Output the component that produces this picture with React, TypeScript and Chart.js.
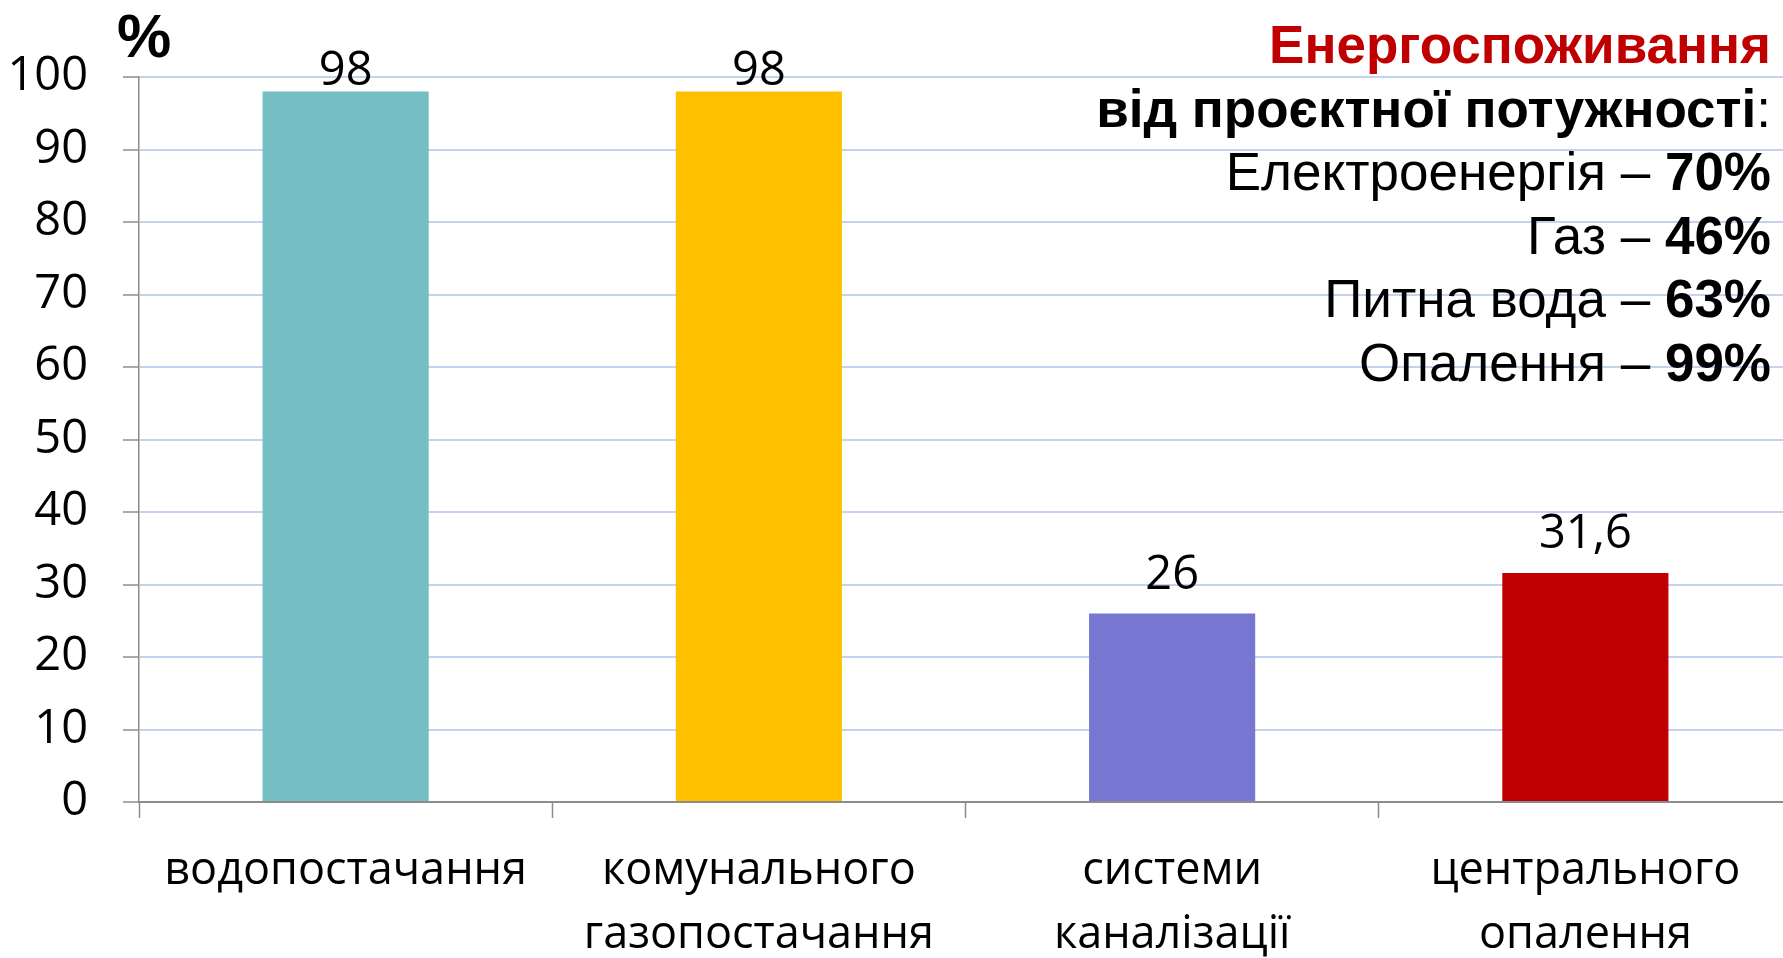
import React, { useEffect, useRef } from "react";
import { Chart, registerables } from "chart.js";

Chart.register(...registerables);

const categories: string[][] = [
  ["водопостачання"],
  ["комунального", "газопостачання"],
  ["системи", "каналізації"],
  ["центрального", "опалення"],
];
const values: number[] = [98, 98, 26, 31.6];
const valueLabels: string[] = ["98", "98", "26", "31,6"];
const barColors: string[] = ["#74BEC4", "#FFC000", "#7777D1", "#C00000"];
const yTicks: number[] = [0, 10, 20, 30, 40, 50, 60, 70, 80, 90, 100];
const unitLabel = "%";
const noteTitle = "Енергоспоживання";
const noteSubtitle = "від проєктної потужності";
const noteItems: string[] = ["Електроенергія", "Газ", "Питна вода", "Опалення"];
const noteValues: string[] = ["70%", "46%", "63%", "99%"];

const AXIS = "#8c8c8c";
const GRID = "#c3d2ee";
const TICK_FONT = "Open Sans";
const NOTE_FONT = "'Liberation Sans', Arial, sans-serif";
const NOTE_SIZE = 53;

const overlayPlugin = {
  id: "overlay",
  afterDatasetsDraw(chart: any) {
    const ctx = chart.ctx as CanvasRenderingContext2D;
    const meta = chart.getDatasetMeta(0);
    const area = chart.chartArea;
    ctx.save();
    // data labels
    ctx.font = `47px '${TICK_FONT}'`;
    ctx.fillStyle = "#000";
    ctx.textAlign = "center";
    ctx.textBaseline = "alphabetic";
    meta.data.forEach((bar: any, i: number) => {
      const y = Math.max(bar.y - 25, area.top + 8);
      ctx.fillText(valueLabels[i], bar.x, y);
    });
    // unit label
    ctx.font = `bold 61px ${NOTE_FONT}`;
    ctx.textAlign = "left";
    ctx.fillText(unitLabel, 117, 57);
    // note block, right aligned
    const right = 1771;
    const base0 = 63;
    const step = 63.6;
    ctx.textAlign = "right";
    ctx.fillStyle = "#C00000";
    ctx.font = `bold ${NOTE_SIZE}px ${NOTE_FONT}`;
    ctx.fillText(noteTitle, right, base0);
    ctx.fillStyle = "#000";
    ctx.font = `${NOTE_SIZE}px ${NOTE_FONT}`;
    const colonW = ctx.measureText(":").width;
    ctx.fillText(":", right, base0 + step);
    ctx.font = `bold ${NOTE_SIZE}px ${NOTE_FONT}`;
    ctx.fillText(noteSubtitle, right - colonW, base0 + step);
    noteItems.forEach((item, i) => {
      const y = base0 + step * (i + 2);
      ctx.font = `bold ${NOTE_SIZE}px ${NOTE_FONT}`;
      const vw = ctx.measureText(noteValues[i]).width;
      ctx.fillText(noteValues[i], right, y);
      ctx.font = `${NOTE_SIZE}px ${NOTE_FONT}`;
      ctx.fillText(item + " – ", right - vw, y);
    });
    ctx.restore();
  },
};

export default function App() {
  const ref = useRef<HTMLCanvasElement | null>(null);
  useEffect(() => {
    document.body.style.margin = "0";
    const canvas = ref.current!;
    const chart = new Chart(canvas, {
      type: "bar",
      data: {
        labels: categories,
        datasets: [
          {
            data: values,
            backgroundColor: barColors,
            borderWidth: 0,
            categoryPercentage: 1,
            barPercentage: 0.402,
          },
        ],
      },
      options: {
        animation: false,
        responsive: false,
        devicePixelRatio: 1,
        layout: { padding: { top: 77, right: 3, bottom: 0, left: 0 } },
        plugins: { legend: { display: false }, tooltip: { enabled: false }, title: { display: false } },
        scales: {
          x: {
            offset: true,
            grid: {
              offset: true,
              drawOnChartArea: false,
              drawTicks: true,
              tickLength: 16,
              tickColor: AXIS,
              tickWidth: 1.5,
            },
            border: { display: true, color: AXIS, width: 2 },
            ticks: {
              color: "#000",
              padding: 21,
              maxRotation: 0,
              autoSkip: false,
              font: { family: TICK_FONT, size: 45, lineHeight: 64 / 45 },
            },
            afterFit(scale: any) {
              scale.height = 156;
            },
          },
          y: {
            min: 0,
            max: 100,
            afterBuildTicks(scale: any) {
              scale.ticks = yTicks.map((v) => ({ value: v }));
            },
            grid: {
              color: GRID,
              lineWidth: 2,
              drawTicks: true,
              tickLength: 16,
              tickColor: AXIS,
              tickWidth: 1.5,
            },
            border: { display: true, color: AXIS, width: 1.5 },
            ticks: {
              color: "#000",
              padding: 35,
              font: { family: TICK_FONT, size: 47 },
            },
            afterFit(scale: any) {
              scale.width = 139;
            },
          },
        },
      },
      plugins: [overlayPlugin],
    });
    return () => chart.destroy();
  }, []);
  return (
    <div
      style={{
        position: "fixed",
        left: 0,
        top: 0,
        width: 1783,
        height: 958,
        overflow: "hidden",
        background: "#fff",
      }}
    >
      <canvas ref={ref} width={1795} height={958} style={{ display: "block", width: 1795, height: 958 }} />
    </div>
  );
}
